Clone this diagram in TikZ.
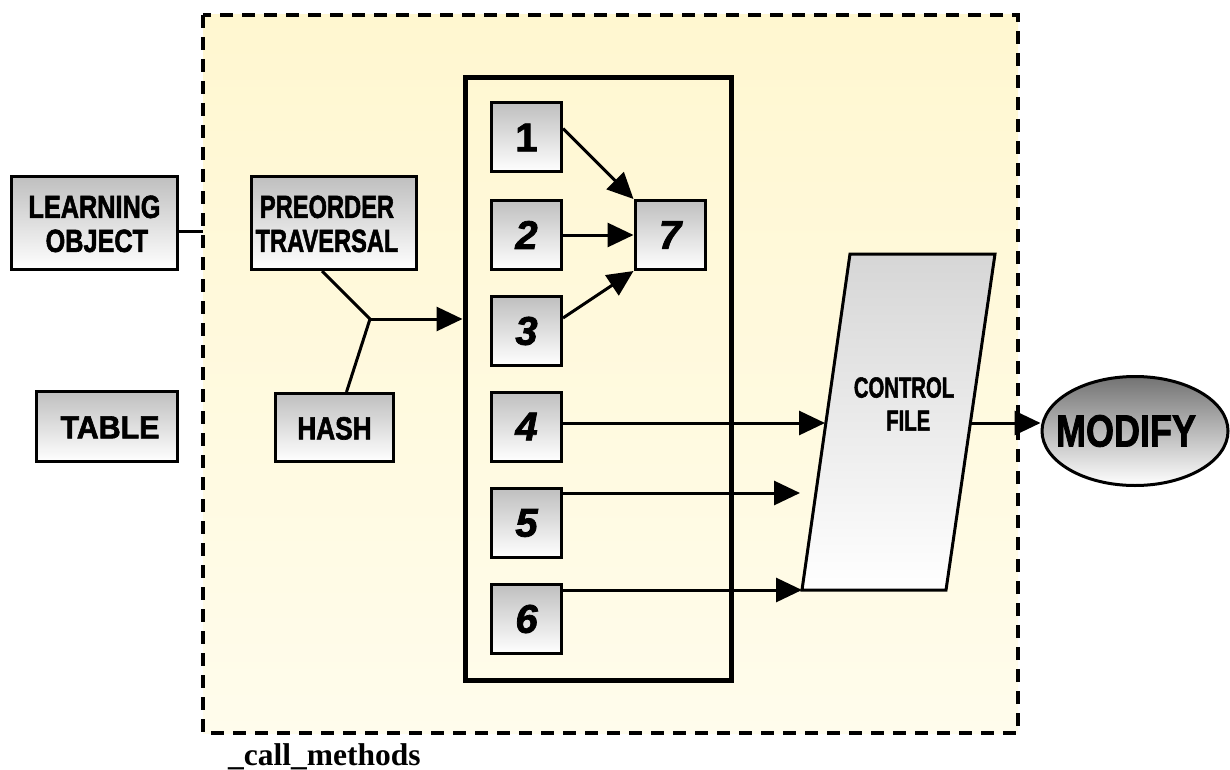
\documentclass[tikz,border=0pt]{standalone}
\usepackage{graphicx}
\usepackage{fontspec}
\setmainfont{Liberation Sans}
\newfontfamily\heavyfont[FakeBold=2]{Liberation Sans}
\newfontfamily\labelfont{Liberation Serif}
\usetikzlibrary{arrows.meta,shapes.geometric}

% horizontally condensed box captions, centred on their capitals
\newcommand\narrowtxt[2]{\scalebox{#1}[1]{\begin{tabular}{@{}c@{}}\rule{0pt}{34pt}#2\end{tabular}}}

\begin{document}
\begin{tikzpicture}[x=1pt,y=-1pt,
  box/.style={draw, line width=3pt, top color=black!25, bottom color=white,
    inner sep=0pt, font=\heavyfont\bfseries\fontsize{32}{34}\selectfont},
  numbox/.style={box, minimum width=70, minimum height=69,
    font=\heavyfont\bfseries\itshape\fontsize{40}{40}\selectfont},
  link/.style={line width=3pt},
  arr/.style={line width=3pt, -{Triangle[length=26pt,width=24pt]}}]

\useasboundingbox (0,0) rectangle (1230,770);

% dashed package frame
\draw[line width=3.5pt, dash pattern=on 13pt off 9pt,
  top color={rgb,255:red,255;green,247;blue,208},
  bottom color={rgb,255:red,255;green,252;blue,236}]
  (203,15) rectangle (1018,733);
\node[anchor=base west, font=\labelfont\bfseries\fontsize{31.5}{32}\selectfont,
  inner sep=0pt] (pkg) at (228,765) {\_call\_methods};

% outside inputs
\node[box, minimum width=166, minimum height=93] (lo) at (94.5,223)
  {\narrowtxt{0.79}{LEARNING\\\hspace*{6pt}OBJECT}};
\node[box, minimum width=141, minimum height=70] (tbl) at (107,426.5)
  {\hspace*{6pt}\narrowtxt{0.95}{TABLE}};

% preprocessing steps
\node[box, minimum width=165, minimum height=93] (pre) at (334,223)
  {\hspace*{-14pt}\narrowtxt{0.74}{PREORDER\\TRAVERSAL}};
\node[box, minimum width=118, minimum height=68] (hash) at (334.5,427.5)
  {\narrowtxt{0.82}{HASH}};

% method group
\node[draw, line width=5pt, minimum width=266, minimum height=602,
  inner sep=0pt] (grp) at (598,379) {};
\node[numbox] (b1) at (526.5,137.5) {\upshape 1};
\node[numbox] (b2) at (526.5,235) {2};
\node[numbox] (b3) at (526.5,331) {3};
\node[numbox] (b4) at (526.5,426.5) {4};
\node[numbox] (b5) at (526.5,523) {5};
\node[numbox] (b6) at (526.5,619) {6};
\node[numbox] (b7) at (670,235) {7};

% control file (parallelogram)
\coordinate (cf-tl) at (850,254);
\coordinate (cf-tr) at (995,254);
\coordinate (cf-br) at (946,590);
\coordinate (cf-bl) at (802,590);
\draw[line width=3pt, line join=miter,
  top color=black!16, bottom color=white]
  (cf-tl) -- (cf-tr) -- (cf-br) -- (cf-bl) -- cycle;
\node[font=\heavyfont\bfseries\fontsize{29}{33}\selectfont, inner sep=0pt] (cf) at (904,402)
  {\narrowtxt{0.7}{CONTROL\\\hspace*{12pt}FILE}};
\coordinate (cf-in4) at (825,423);
\coordinate (cf-in5) at (800,493);
\coordinate (cf-out) at (970,423);

% result
\node[ellipse, draw, line width=3pt, minimum width=186, minimum height=109,
  inner sep=0pt, top color=black!55, bottom color=white,
  font=\heavyfont\bfseries\fontsize{45}{45}\selectfont] (mod) at (1135,431)
  {\makebox[0pt]{\hspace*{-18pt}\scalebox{0.8}[1]{MODIFY}}};

% connectors
\coordinate (lo-edge) at (203,231);
\draw[link] ([yshift=-8pt]lo.east) -- (lo-edge);
\coordinate (j) at (370,319);
\draw[link] ([xshift=-12pt]pre.south) -- (j);
\draw[link] ([xshift=12pt]hash.north) -- (j);
\draw[arr] (j) -- (j -| grp.west);

\draw[arr] ([yshift=9pt]b1.east) -- (b7.north west);
\draw[arr] (b2.east) -- (b7.west);
\draw[arr] ([yshift=13pt]b3.east) -- (b7.south west);

\draw[arr] ([yshift=3.5pt]b4.east) -- (cf-in4);
\draw[arr] ([yshift=-6pt]b5.north east) -- (cf-in5);
\draw[arr] ([yshift=-7pt]b6.north east) -- (cf-bl);
\draw[arr] (cf-out) -- (cf-out -| mod.west);

\end{tikzpicture}
\end{document}
